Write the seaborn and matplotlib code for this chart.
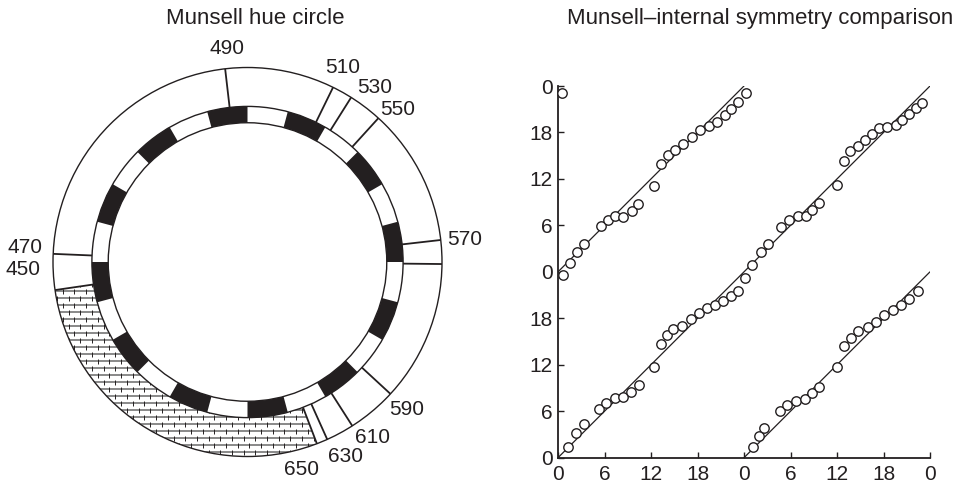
import numpy as np
import pandas as pd
import matplotlib
matplotlib.use("Agg")
import matplotlib.pyplot as plt
from matplotlib.patches import Wedge, Circle
from matplotlib.collections import LineCollection
import seaborn as sns

sns.set_theme(style="ticks")
plt.rcParams["font.family"] = ["Liberation Sans", "DejaVu Sans"]
INK = "#231f20"

# ---------------- Munsell hue circle ----------------
wavelengths = [450, 470, 490, 510, 530, 550, 570, 590, 610, 630, 650]
label_angles = [182.0, 176.4, 95.6, 63.9, 53.8, 45.3, 5.8, -42.9, -54.5, -63.4, -75.4]
label_radii = [1.155, 1.147, 1.105, 1.116, 1.109, 1.100, 1.124, 1.116, 1.111, 1.121, 1.105]
# radial dividers of the spectral ring (degrees, counter-clockwise from 3 o'clock)
boundary_angles = [188.3, 177.6, 96.6, 63.9, 57.8, 47.7, 6.5, -0.6, -42.7, -57.4, -65.8, -69.1]
# non-spectral (purple) stretch of the ring, hatched
purple_span = (-171.7, -69.1)
n_hue_steps = 24

# ---------------- Munsell vs internal symmetry ----------------
period = 24
hue_ticks = [0, 6, 12, 18, 24, 30, 36, 42, 48]

hue_a = [1.3, 2.3, 3.35, 5.3, 6.2, 7.4, 8.45, 9.45, 10.45, 12.35, 13.3, 14.05,
         14.9, 16.0, 17.15, 18.15, 19.2, 20.25, 21.3, 22.3, 23.2, 24.15]
sym_a = [1.35, 3.25, 4.3, 6.35, 7.0, 7.7, 7.85, 8.5, 9.4, 11.65, 14.65, 15.85,
         16.6, 17.05, 17.85, 18.7, 19.3, 19.7, 20.2, 20.9, 21.55, 23.25]

hue_b = [0.55, 0.7, 1.55, 2.4, 3.4, 5.5, 6.4, 7.4, 8.45, 9.5, 10.35, 12.45,
         13.35, 14.15, 15.1, 16.15, 17.25, 18.35, 19.5, 20.55, 21.5, 22.3, 23.25, 24.25]
sym_b = [47.05, 23.6, 25.1, 26.6, 27.65, 29.9, 30.75, 31.2, 31.1, 31.8, 32.8, 35.15,
         37.95, 39.1, 39.75, 40.5, 41.35, 42.3, 42.85, 43.3, 44.2, 45.0, 45.9, 47.05]

hue_c = [25.0, 26.15, 27.15, 28.8, 29.8, 30.95, 31.95, 32.75, 33.7, 35.95, 36.95,
         37.7, 38.65, 39.65, 40.55, 41.45, 42.4, 43.55, 44.4, 45.3, 46.15, 46.95]
sym_c = [24.9, 26.5, 27.6, 29.8, 30.7, 31.25, 31.25, 32.05, 32.95, 35.25, 38.35,
         39.6, 40.2, 41.0, 41.8, 42.6, 42.75, 43.0, 43.6, 44.4, 45.1, 45.75]

hue_d = [25.1, 25.95, 26.6, 28.65, 29.6, 30.65, 31.9, 32.8, 33.7, 36.05, 36.85,
         37.8, 38.75, 39.95, 41.0, 42.05, 43.2, 44.3, 45.3, 46.45]
sym_d = [1.4, 2.85, 3.8, 6.05, 6.8, 7.35, 7.55, 8.3, 9.1, 11.7, 14.45, 15.45,
         16.35, 16.9, 17.55, 18.4, 19.05, 19.7, 20.5, 21.5]

W, H = 960, 486
fig = plt.figure(figsize=(W / 100, H / 100), dpi=100)
fig.patch.set_facecolor("white")

# ---- left panel: hue circle (pixel-consistent equal scaling) ----
cx, cy, R_px = 247.5, 262.0, 194.5
ax1 = fig.add_axes([0, 0, 480 / W, 1])
ax1.set_xlim((0 - cx) / R_px, (480 - cx) / R_px)
ax1.set_ylim(-(H - cy) / R_px, cy / R_px)
ax1.axis("off")

r_out, r_mid, r_in = 1.0, 0.80, 0.716
lw_c = 1.0

# alternating hue steps on the inner ring
step = 360 / n_hue_steps
for k in range(n_hue_steps):
    if k % 2 == 0:
        ax1.add_patch(Wedge((0, 0), r_mid, k * step, (k + 1) * step,
                            width=r_mid - r_in, facecolor=INK, edgecolor="none", zorder=2))

# hatched purple sector
purple = Wedge((0, 0), r_out, purple_span[0], purple_span[1], width=r_out - r_mid,
               facecolor="white", edgecolor="none", zorder=1)
ax1.add_patch(purple)
h_sp, w_sp = 0.036, 0.06
rows = np.arange(-1.05, -0.05, h_sp)
hlines = [[(-1.1, y), (0.6, y)] for y in rows]
hl = LineCollection(hlines, colors="#6a6a6a", linewidths=1.1, zorder=1.5)
ax1.add_collection(hl)
hl.set_clip_path(purple)
ticks = []
for j, y in enumerate(rows):
    xs = np.arange(-1.1, 0.6, w_sp) + (j % 2) * w_sp / 2
    for x in xs:
        ticks.append([(x, y - 0.35 * h_sp), (x, y + 0.35 * h_sp)])
tl = LineCollection(ticks, colors=INK, linewidths=0.7, zorder=1.6)
ax1.add_collection(tl)
tl.set_clip_path(purple)

for r in (r_out, r_mid, r_in):
    ax1.add_patch(Circle((0, 0), r, fill=False, edgecolor=INK, linewidth=lw_c, zorder=3))

for a in boundary_angles:
    t = np.deg2rad(a)
    ax1.plot([r_mid * np.cos(t), r_out * np.cos(t)], [r_mid * np.sin(t), r_out * np.sin(t)],
             color=INK, lw=1.3, zorder=3, solid_capstyle="butt")

for wl, a, r in zip(wavelengths, label_angles, label_radii):
    t = np.deg2rad(a)
    ax1.text(r * np.cos(t), r * np.sin(t), str(wl), ha="center", va="center",
             fontsize=15, color=INK, clip_on=False)

fig.text(255 / W, 1 - 24 / H, "Munsell hue circle", ha="center", va="baseline",
         fontsize=16, color=INK)

# ---- right panel: Munsell vs internal symmetry ----
ax2 = fig.add_axes([558 / W, 1 - 457.7 / H, 372 / W, 371.7 / H])

for x0, y0, x1 in [(0, 0, 2 * period), (0, period, period), (period, 0, 2 * period)]:
    seg = pd.DataFrame({"hue": [x0, x1], "sym": [y0, y0 + (x1 - x0)]})
    sns.lineplot(data=seg, x="hue", y="sym", ax=ax2, color=INK, lw=0.9,
                 estimator=None, sort=False, zorder=2)

pts = pd.concat([
    pd.DataFrame({"hue": hue_a, "sym": sym_a, "set": "a"}),
    pd.DataFrame({"hue": hue_b, "sym": sym_b, "set": "b"}),
    pd.DataFrame({"hue": hue_c, "sym": sym_c, "set": "c"}),
    pd.DataFrame({"hue": hue_d, "sym": sym_d, "set": "d"}),
], ignore_index=True)
sns.scatterplot(data=pts, x="hue", y="sym", ax=ax2, marker="o", s=46,
                facecolor="white", edgecolor=INK, linewidth=1.0, zorder=3,
                clip_on=False, legend=False)

ax2.set_xlim(0, 2 * period)
ax2.set_ylim(0, 2 * period)
ax2.set_xticks(hue_ticks)
ax2.set_yticks(hue_ticks)
ax2.set_xticklabels([str(t % period) for t in hue_ticks])
ax2.set_yticklabels([str(t % period) for t in hue_ticks])
ax2.set_xlabel("")
ax2.set_ylabel("")
sns.despine(ax=ax2)
for s in ("left", "bottom"):
    ax2.spines[s].set_color(INK)
    ax2.spines[s].set_linewidth(1.3)
ax2.tick_params(direction="in", length=4.5, width=1.0, color=INK, labelcolor=INK,
                labelsize=15)
ax2.tick_params(axis="y", pad=4)
ax2.tick_params(axis="x", pad=5)
ax2.set_facecolor("white")

fig.text(760 / W, 1 - 24 / H, "Munsell\u2013internal symmetry comparison", ha="center",
         va="baseline", fontsize=16, color=INK)

fig.savefig("out.png", dpi=100, facecolor="white")
